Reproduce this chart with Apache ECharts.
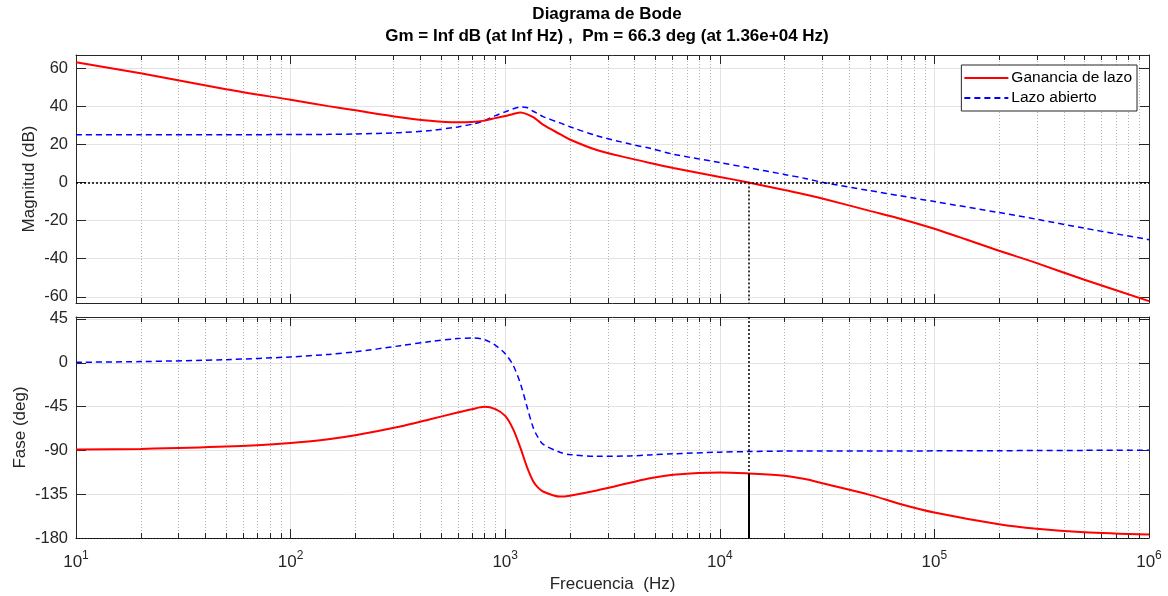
<!DOCTYPE html>
<html>
<head>
<meta charset="UTF-8">
<title>Diagrama de Bode</title>
<script src="https://cdn.jsdelivr.net/npm/echarts@6/dist/echarts.min.js"></script>
<style>
    html, body { margin: 0; padding: 0; background: #fff; }
    #main { width: 1168px; height: 596px; }
</style>
</head>
<body>
<div id="main"></div>
<script>
// frecuencias (Hz)
var freq = [10, 20, 50, 100, 150, 200, 324, 447, 600, 700, 800, 900, 1000, 1090, 1180, 1260, 1350, 1420, 1500, 1800, 2000, 2670,
    3820, 4730, 6070, 10000, 13600, 20000, 25000, 30000, 50000, 69200, 100000, 200000, 300000, 500000, 1000000];
// magnitud (dB)
var magLazo = [63, 57.2, 48.9, 43.3, 40.0, 37.8, 34.2, 32.3, 31.5, 31.7, 32.4, 33.7, 34.8, 35.9, 36.7, 35.8, 34.2, 32.4, 30.3, 25.3, 22.5, 17.0,
    12.6, 10.2, 7.6, 2.9, 0, -4.0, -6.3, -8.4, -14.9, -19.0, -24.3, -35.8, -42.3, -51, -62.2];
var magAbierto = [25, 25, 25, 25.1, 25.2, 25.4, 26.1, 27.2, 29.1, 30.5, 32.4, 35.0, 37.0, 38.6, 39.5, 39.3, 37.3, 36.0, 34.5, 31.2, 29.2, 24.5,
    20.1, 17.9, 14.8, 10.4, 7.7, 4.2, 2.1, 0.1, -4.3, -7.0, -10, -15.8, -19.3, -24, -30];
// fase (deg)
var faseLazo = [-89.2, -88.5, -86.1, -82.3, -78.5, -74.5, -65.5, -58, -51.1, -47.7, -45.3, -47.7, -54.6, -68.4, -88, -106.4, -121.7, -128, -132.2, -137.5, -136.5, -131.2,
    -123.3, -118.7, -115, -112.6, -113.7, -116, -119.5, -123.7, -135.7, -145, -153.8, -165.9, -170.5, -174, -176.5];
var faseAbierto = [0.5, 1.2, 3.2, 6, 8.6, 11.2, 17.5, 21.8, 24.8, 25.5, 23.8, 17.9, 9.3, -2.8, -22, -44.2, -66.5, -76.5, -83.6, -91.9, -94.3, -96,
    -95.7, -94.7, -93.5, -91.8, -91.2, -90.7, -90.6, -90.6, -90.6, -90.6, -90.5, -90.3, -90.2, -90, -89.8];

// margen de fase
var pmFreq = 13600;
var pmFase = -113.7;

// decadas y subdivisiones del eje log
var decadas = [1, 2, 3, 4, 5];
var minorFreqs = [];
decadas.forEach(function (d) {
    for (var k = 2; k <= 9; k++) minorFreqs.push(k * Math.pow(10, d));
});

var FONT = 'Liberation Sans, Arial, Helvetica, sans-serif';
var AXC = '#262626';
var magMin = -63.2, magMax = 66.8;
var faseMin = -180, faseMax = 47;

function pares(y) {
    return freq.map(function (f, i) { return [f, y[i]]; });
}

function ejeX(grid, pos, labels, split) {
    return {
        type: 'log', logBase: 10, gridIndex: grid, position: pos,
        min: 10, max: 1000000,
        axisLine: { show: true, onZero: false, lineStyle: { color: AXC, width: 1 } },
        axisTick: { show: true, inside: true, length: 9, lineStyle: { color: AXC } },
        axisLabel: {
            show: labels, margin: 12, color: AXC, fontFamily: FONT,
            formatter: function (v) { return '{b|10}{s|' + Math.round(Math.log10(v)) + '}'; },
            rich: {
                b: { fontSize: 17, fontFamily: FONT, color: AXC },
                s: { fontSize: 12, fontFamily: FONT, color: AXC, padding: [0, 0, 12, 0] }
            }
        },
        splitLine: { show: split, lineStyle: { color: '#e3e3e3', width: 1 } },
        name: labels ? 'Frecuencia  (Hz)' : '',
        nameLocation: 'middle', nameGap: 38, nameMoveOverlap: false,
        nameTextStyle: { fontSize: 17, fontFamily: FONT, color: AXC }
    };
}

function ejeY(grid, pos, min, max, extra, labels, split, name, gap) {
    var a = {
        type: 'value', gridIndex: grid, position: pos, min: min, max: max,
        axisLine: { show: true, lineStyle: { color: AXC, width: 1 } },
        axisTick: { show: true, inside: true, length: 10, lineStyle: { color: AXC } },
        axisLabel: { show: labels, showMinLabel: extra.showMin, showMaxLabel: false, fontSize: 16.5, color: AXC, fontFamily: FONT, margin: 8 },
        splitLine: { show: split, lineStyle: { color: '#e3e3e3', width: 1 } },
        name: name, nameLocation: 'middle', nameGap: gap, nameMoveOverlap: false,
        nameTextStyle: { fontSize: 17, fontFamily: FONT, color: AXC }
    };
    if (extra.interval) a.interval = extra.interval;
    if (extra.splitNumber) a.splitNumber = extra.splitNumber;
    return a;
}

function minorRender(params, api) {
    var cs = params.coordSys;
    var x = Math.round(api.coord([api.value(0), api.value(1)])[0]) + 0.5;
    var top = cs.y, bot = cs.y + cs.height;
    return {
        type: 'group',
        children: [
            { type: 'line', shape: { x1: x, y1: top, x2: x, y2: bot }, style: { stroke: '#b5b5b5', lineWidth: 1, lineDash: [1, 2] } },
            { type: 'line', shape: { x1: x, y1: top, x2: x, y2: top + 5 }, style: { stroke: AXC, lineWidth: 1 } },
            { type: 'line', shape: { x1: x, y1: bot - 5, x2: x, y2: bot }, style: { stroke: AXC, lineWidth: 1 } }
        ]
    };
}

var chart = echarts.init(document.getElementById('main'));

var rojo = { color: '#ff0000', width: 2 };
var azul = { color: '#0000ff', width: 1.5, type: [6, 4] };
var punteado = { color: '#000', width: 1.5, type: [2, 2] };
var SMOOTH = 0.3;

var option = {
    animation: false,
    backgroundColor: '#fff',
    title: {
        text: 'Diagrama de Bode\nGm = Inf dB (at Inf Hz) ,  Pm = 66.3 deg (at 1.36e+04 Hz)',
        left: 607, top: 3, padding: 0, textAlign: 'center',
        textStyle: { fontSize: 17, fontWeight: 'bold', color: '#000', fontFamily: FONT, lineHeight: 22 }
    },
    legend: {
        data: ['Ganancia de lazo', 'Lazo abierto'],
        orient: 'vertical', right: 31, top: 65,
        backgroundColor: '#fff', borderColor: AXC, borderWidth: 1, borderRadius: 0,
        padding: [5, 5, 5, 2], itemGap: 4, itemWidth: 44, itemHeight: 16,
        itemStyle: { opacity: 0 },
        textStyle: { fontSize: 15.5, color: '#000', fontFamily: FONT, padding: [0, 0, 0, -2] }
    },
    grid: [
        { left: 76, right: 19, top: 55, height: 248 },
        { left: 76, right: 19, top: 317, height: 221 }
    ],
    xAxis: [
        ejeX(0, 'bottom', false, true),
        ejeX(0, 'top', false, false),
        ejeX(1, 'bottom', true, true),
        ejeX(1, 'top', false, false)
    ],
    yAxis: [
        ejeY(0, 'left', magMin, magMax, { splitNumber: 6, showMin: false }, true, true, 'Magnitud (dB)', 38),
        ejeY(0, 'right', magMin, magMax, { splitNumber: 6, showMin: false }, false, false, '', 0),
        ejeY(1, 'left', faseMin, faseMax, { interval: 45, showMin: true }, true, true, 'Fase (deg)', 47),
        ejeY(1, 'right', faseMin, faseMax, { interval: 45, showMin: true }, false, false, '', 0)
    ],
    series: [
        {
            type: 'custom', xAxisIndex: 0, yAxisIndex: 0, silent: true, z: 1, clip: false,
            renderItem: minorRender, data: minorFreqs.map(function (f) { return [f, 0]; })
        },
        {
            type: 'custom', xAxisIndex: 2, yAxisIndex: 2, silent: true, z: 1, clip: false,
            renderItem: minorRender, data: minorFreqs.map(function (f) { return [f, 0]; })
        },
        {
            name: 'Ganancia de lazo', type: 'line', xAxisIndex: 0, yAxisIndex: 0,
            data: pares(magLazo), showSymbol: false, symbol: 'none', smooth: SMOOTH,
            lineStyle: rojo, itemStyle: { color: '#ff0000' }, z: 4,
            markLine: {
                silent: true, symbol: ['none', 'none'], label: { show: false }, lineStyle: punteado,
                data: [
                    { yAxis: 0 },
                    [{ coord: [pmFreq, 0] }, { coord: [pmFreq, magMin] }]
                ]
            }
        },
        {
            name: 'Lazo abierto', type: 'line', xAxisIndex: 0, yAxisIndex: 0,
            data: pares(magAbierto), showSymbol: false, symbol: 'none', smooth: SMOOTH,
            lineStyle: azul, itemStyle: { color: '#0000ff' }, z: 3
        },
        {
            name: 'Ganancia de lazo', type: 'line', xAxisIndex: 2, yAxisIndex: 2,
            data: pares(faseLazo), showSymbol: false, symbol: 'none', smooth: SMOOTH,
            lineStyle: rojo, itemStyle: { color: '#ff0000' }, z: 4,
            markLine: {
                silent: true, symbol: ['none', 'none'], label: { show: false }, lineStyle: punteado,
                data: [
                    { yAxis: faseMin, lineStyle: { color: '#000', width: 1, type: [1, 2] } },
                    [{ coord: [pmFreq, faseMax] }, { coord: [pmFreq, pmFase] }],
                    [{ coord: [pmFreq, pmFase], lineStyle: { color: '#000', width: 2, type: 'solid' } }, { coord: [pmFreq, faseMin] }]
                ]
            }
        },
        {
            name: 'Lazo abierto', type: 'line', xAxisIndex: 2, yAxisIndex: 2,
            data: pares(faseAbierto), showSymbol: false, symbol: 'none', smooth: SMOOTH,
            lineStyle: azul, itemStyle: { color: '#0000ff' }, z: 3
        }
    ]
};

chart.setOption(option);
</script>
</body>
</html>
